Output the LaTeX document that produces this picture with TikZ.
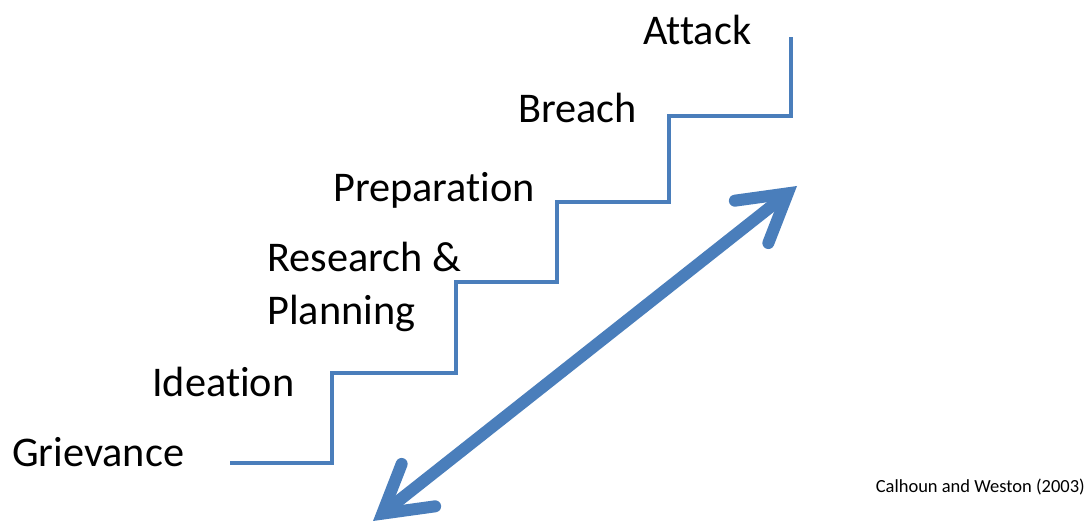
\documentclass[tikz,border=0pt]{standalone}
\usepackage{fontspec}
\setmainfont{Carlito}[Ligatures=NoCommon]
\usetikzlibrary{arrows.meta}
\definecolor{stairblue}{HTML}{4A7EBB}
\begin{document}
\begin{tikzpicture}[x=1pt,y=-1pt,
  stage/.style={anchor=base west,inner sep=0pt,font=\fontsize{42.3}{50}\selectfont},
  stairline/.style={draw=stairblue,line width=4pt,line join=miter},
  bigarrow/.style={draw=stairblue,line width=12pt,
    {Straight Barb[length=46pt,width=54pt,line cap=round,line join=miter]}-{Straight Barb[length=46pt,width=54pt,line cap=round,line join=miter]}}]
\useasboundingbox (0,0) rectangle (1087,521);
\node[stage] (attack) at (643,45) {Attack};
\node[stage] (breach) at (518,123) {Breach};
\node[stage] (prep) at (333,202) {Preparation};
\node[stage] (research) at (267,272) {Research \&};
\node[stage] (planning) at (267,325) {Planning};
\node[stage] (ideation) at (152,396) {Ideation};
\node[stage] (grievance) at (12,466) {Grievance};
\node[anchor=base east,inner sep=0pt,font=\fontsize{18.5}{22}\selectfont] (cite) at (1085,492) {Calhoun and Weston (2003)};
\coordinate (s0) at (230,463);
\coordinate (s1) at (791,37);
\draw[stairline] (s0) -- (332,463) -- (332,373) -- (456,373) -- (456,282) -- (557,282) -- (557,202) -- (669,202) -- (669,116) -- (791,116) -- (s1);
\coordinate (a0) at (373,521);
\coordinate (a1) at (797,186);
\draw[bigarrow] (a0) -- (a1);
\end{tikzpicture}
\end{document}
